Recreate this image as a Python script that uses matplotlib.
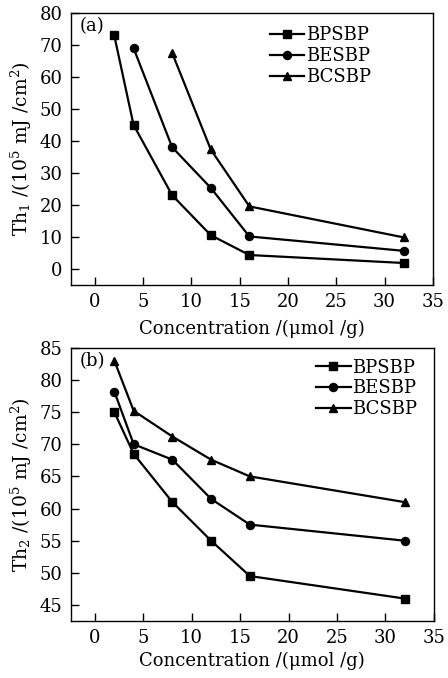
import matplotlib
matplotlib.use('Agg')
import matplotlib.pyplot as plt

plt.rcParams['font.family'] = 'DejaVu Serif'
plt.rcParams['mathtext.fontset'] = 'dejavuserif'
plt.rcParams['font.size'] = 13

series = ['BPSBP', 'BESBP', 'BCSBP']
markers = ['s', 'o', '^']

# panel (a): Th1
x_a = {'BPSBP': [2, 4, 8, 12, 16, 32],
       'BESBP': [4, 8, 12, 16, 32],
       'BCSBP': [8, 12, 16, 32]}
y_a = {'BPSBP': [73, 45, 23, 10.5, 4.3, 1.8],
       'BESBP': [69, 38, 25.3, 10.1, 5.6],
       'BCSBP': [67.5, 37.3, 19.5, 9.8]}

# panel (b): Th2
x_b = [2, 4, 8, 12, 16, 32]
y_b = {'BPSBP': [75, 68.5, 61, 55, 49.5, 46],
       'BESBP': [78.2, 70, 67.6, 61.5, 57.5, 55],
       'BCSBP': [83, 75.2, 71.2, 67.6, 65, 61]}

fig = plt.figure(figsize=(4.48, 6.78), dpi=100)
ax1 = fig.add_axes([0.158, 0.580, 0.808, 0.401])
ax2 = fig.add_axes([0.158, 0.084, 0.810, 0.403])

for s, m in zip(series, markers):
    ax1.plot(x_a[s], y_a[s], color='black', marker=m, markersize=5.8, lw=1.6, label=s)
    ax2.plot(x_b, y_b[s], color='black', marker=m, markersize=5.8, lw=1.6, label=s)

ax1.set_xlim(-2.5, 35)
ax1.set_ylim(-5, 80)
ax1.set_yticks(range(0, 81, 10))
ax1.set_ylabel('Th$_1$ /(10$^5$ mJ /cm$^2$)', labelpad=4, fontsize=13.5)
ax1.text(0.025, 0.985, '(a)', transform=ax1.transAxes, va='top', ha='left')
ax1.legend(loc='upper right', bbox_to_anchor=(0.83, 0.95), frameon=False,
           handlelength=1.9, handletextpad=0.1, labelspacing=0.15,
           borderaxespad=0, borderpad=0)

ax2.set_xlim(-2.5, 35)
ax2.set_ylim(42.5, 85)
ax2.set_yticks(range(45, 86, 5))
ax2.set_ylabel('Th$_2$ /(10$^5$ mJ /cm$^2$)', labelpad=4, fontsize=13.5)
ax2.text(0.025, 0.985, '(b)', transform=ax2.transAxes, va='top', ha='left')
ax2.legend(loc='upper right', bbox_to_anchor=(0.955, 0.96), frameon=False,
           handlelength=1.9, handletextpad=0.1, labelspacing=0.15,
           borderaxespad=0, borderpad=0)

ax1.set_xlabel('Concentration /(μmol /g)', labelpad=6)
ax2.set_xlabel('Concentration /(μmol /g)', labelpad=3)
for ax in (ax1, ax2):
    ax.set_xticks(range(0, 36, 5))
    ax.tick_params(direction='in', length=6, width=1, pad=6)
    for sp in ax.spines.values():
        sp.set_linewidth(1)

fig.savefig('out.png', dpi=100)
